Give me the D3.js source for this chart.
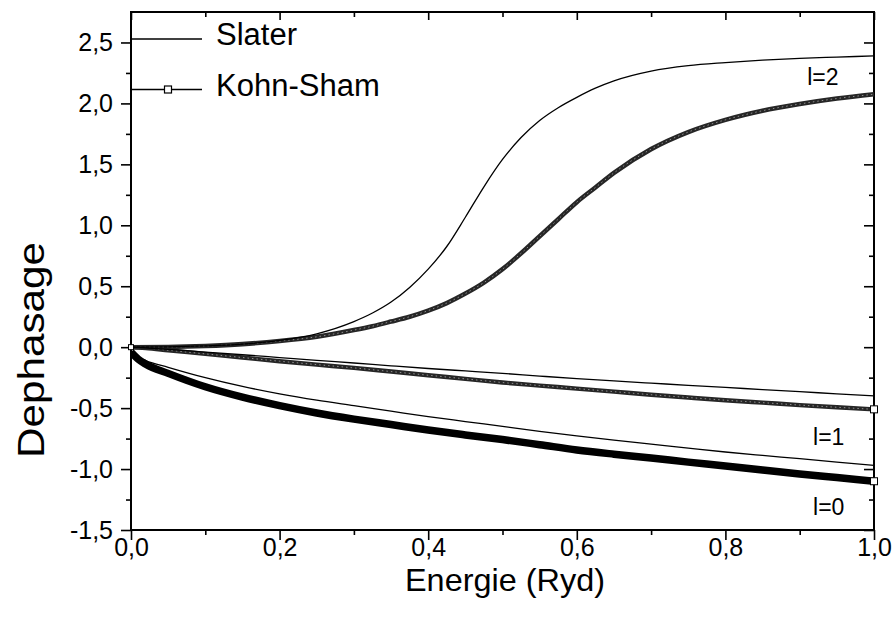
<!DOCTYPE html>
<html>
<head>
<meta charset="utf-8">
<script src="https://cdn.jsdelivr.net/npm/d3@7"></script>
<style>
  html, body { margin: 0; padding: 0; background: #fff; }
  svg { display: block; font-family: "Liberation Sans", Arial, sans-serif; }
</style>
</head>
<body>
<svg id="chart" width="894" height="621"></svg>
<script>
// ---- data ----
const energies = [0, 0.01, 0.02, 0.05, 0.1, 0.15, 0.2, 0.25, 0.3, 0.35, 0.4, 0.45, 0.5, 0.55, 0.6, 0.65, 0.7, 0.75, 0.8, 0.85, 0.9, 0.95, 1.0];

const slaterL0 = [-0.03, -0.08, -0.11, -0.165, -0.25, -0.322, -0.383, -0.435, -0.48, -0.525, -0.57, -0.61, -0.65, -0.69, -0.727, -0.762, -0.795, -0.828, -0.86, -0.888, -0.915, -0.943, -0.97];
const kohnShamL0 = [-0.04, -0.10, -0.14, -0.215, -0.325, -0.41, -0.48, -0.54, -0.59, -0.635, -0.68, -0.72, -0.758, -0.80, -0.843, -0.878, -0.91, -0.943, -0.975, -1.008, -1.04, -1.07, -1.10];

const slaterL1 = [0, -0.002, -0.005, -0.018, -0.04, -0.062, -0.085, -0.108, -0.13, -0.153, -0.175, -0.195, -0.215, -0.237, -0.258, -0.277, -0.295, -0.313, -0.33, -0.348, -0.365, -0.383, -0.40];
const kohnShamL1 = [0, -0.003, -0.007, -0.025, -0.055, -0.085, -0.115, -0.143, -0.17, -0.2, -0.23, -0.26, -0.29, -0.315, -0.34, -0.365, -0.39, -0.413, -0.435, -0.455, -0.475, -0.493, -0.51];

// l=2 resonance, read on a finer grid through the steep part
const energiesL2 = [0, 0.05, 0.1, 0.15, 0.2, 0.25, 0.3, 0.325, 0.35, 0.375, 0.4, 0.425, 0.45, 0.475, 0.5, 0.525, 0.55, 0.575, 0.6, 0.625, 0.65, 0.7, 0.75, 0.8, 0.85, 0.9, 0.95, 1.0];
const slaterL2 = [0, 0.002, 0.01, 0.025, 0.055, 0.11, 0.21, 0.28, 0.37, 0.49, 0.64, 0.826, 1.066, 1.316, 1.54, 1.72, 1.86, 1.965, 2.05, 2.125, 2.185, 2.265, 2.31, 2.335, 2.355, 2.37, 2.38, 2.39];
const kohnShamL2 = [0, 0.002, 0.01, 0.025, 0.05, 0.085, 0.14, 0.172, 0.21, 0.25, 0.30, 0.362, 0.44, 0.53, 0.64, 0.77, 0.91, 1.05, 1.19, 1.31, 1.43, 1.625, 1.765, 1.865, 1.94, 1.995, 2.04, 2.075];

const xMajorTicks = [0, 0.2, 0.4, 0.6, 0.8, 1.0];
const xMinorTicks = [0.1, 0.3, 0.5, 0.7, 0.9];
const yMajorTicks = [-1.5, -1.0, -0.5, 0.0, 0.5, 1.0, 1.5, 2.0, 2.5];
const yMinorTicks = [-1.25, -0.75, -0.25, 0.25, 0.75, 1.25, 1.75, 2.25];

const legendLabels = ["Slater", "Kohn-Sham"];
const curveLabels = [
  { text: "l=2", e: 0.91, v: 2.15 },
  { text: "l=1", e: 0.918, v: -0.80 },
  { text: "l=0", e: 0.918, v: -1.38 }
];

// ---- layout ----
const svg = d3.select("#chart");
const mLeft = 131, mRight = 874, mTop = 12, mBottom = 530;

const x = d3.scaleLinear().domain([0, 1]).range([mLeft, mRight]);
const y = d3.scaleLinear().domain([-1.5, 2.75]).range([mBottom, mTop]);

const loc = d3.formatLocale({ decimal: ",", thousands: ".", grouping: [3], currency: ["", ""], minus: "-" });
const fmt = loc.format(".1f");

// frame
svg.append("rect")
  .attr("x", mLeft).attr("y", mTop)
  .attr("width", mRight - mLeft).attr("height", mBottom - mTop)
  .attr("fill", "none").attr("stroke", "#000").attr("stroke-width", 2);

function styleAxis(g) {
  g.select(".domain").remove();
  g.selectAll(".tick line").attr("stroke", "#000").attr("stroke-width", 1.6);
  g.selectAll(".tick text").attr("fill", "#000")
    .attr("font-family", "Liberation Sans, Arial, sans-serif");
}

// bottom axis (outward ticks)
svg.append("g").attr("transform", `translate(0,${mBottom})`)
  .call(d3.axisBottom(x).tickValues(xMajorTicks).tickSize(10).tickFormat(fmt))
  .call(styleAxis)
  .call(g => g.selectAll(".tick text").attr("font-size", 25).attr("dy", "0.35em").attr("y", 17));
svg.append("g").attr("transform", `translate(0,${mBottom})`)
  .call(d3.axisBottom(x).tickValues(xMinorTicks).tickSize(5).tickFormat(""))
  .call(styleAxis);

// top axis (inward ticks)
svg.append("g").attr("transform", `translate(0,${mTop})`)
  .call(d3.axisTop(x).tickValues(xMajorTicks).tickSize(-8).tickFormat(""))
  .call(styleAxis);
svg.append("g").attr("transform", `translate(0,${mTop})`)
  .call(d3.axisTop(x).tickValues(xMinorTicks).tickSize(-5).tickFormat(""))
  .call(styleAxis);

// left axis (outward ticks)
svg.append("g").attr("transform", `translate(${mLeft},0)`)
  .call(d3.axisLeft(y).tickValues(yMajorTicks).tickSize(10).tickPadding(8).tickFormat(fmt))
  .call(styleAxis)
  .call(g => g.selectAll(".tick text").attr("font-size", 25));
svg.append("g").attr("transform", `translate(${mLeft},0)`)
  .call(d3.axisLeft(y).tickValues(yMinorTicks).tickSize(5).tickFormat(""))
  .call(styleAxis);

// right axis (inward ticks)
svg.append("g").attr("transform", `translate(${mRight},0)`)
  .call(d3.axisRight(y).tickValues(yMajorTicks).tickSize(-10).tickFormat(""))
  .call(styleAxis);
svg.append("g").attr("transform", `translate(${mRight},0)`)
  .call(d3.axisRight(y).tickValues(yMinorTicks).tickSize(-5).tickFormat(""))
  .call(styleAxis);

// axis titles
svg.append("text")
  .attr("x", 505).attr("y", 591)
  .attr("text-anchor", "middle").attr("font-size", 32)
  .attr("textLength", 200).attr("lengthAdjust", "spacingAndGlyphs")
  .text("Energie (Ryd)");
svg.append("text")
  .attr("transform", `translate(44,350) rotate(-90)`)
  .attr("text-anchor", "middle").attr("font-size", 36)
  .attr("textLength", 216).attr("lengthAdjust", "spacingAndGlyphs")
  .text("Dephasage");

// curves
const lineFor = (xs) => d3.line()
  .x((d, i) => x(xs[i]))
  .y(d => y(d))
  .curve(d3.curveMonotoneX);

svg.append("clipPath").attr("id", "plotclip")
  .append("rect").attr("x", mLeft).attr("y", mTop).attr("width", mRight - mLeft + 4).attr("height", mBottom - mTop);

const plot = svg.append("g").attr("clip-path", "url(#plotclip)");

// Kohn-Sham (thick, dense square markers)
const ksSeries = [
  { xs: energies, data: kohnShamL0, width: 7.5, color: "#000" },
  { xs: energies, data: kohnShamL1, width: 4.4, color: "#262626" },
  { xs: energiesL2, data: kohnShamL2, width: 4.6, color: "#262626" }
];
ksSeries.forEach(s => {
  const d = lineFor(s.xs)(s.data);
  plot.append("path").attr("d", d)
    .attr("fill", "none").attr("stroke", s.color).attr("stroke-width", s.width);
  if (s.width < 6) {
    plot.append("path").attr("d", d)
      .attr("fill", "none").attr("stroke", "#aaa").attr("stroke-width", 0.8)
      .attr("stroke-dasharray", "1.5,3");
  }
});

// Slater (thin)
[[energies, slaterL0], [energies, slaterL1], [energiesL2, slaterL2]].forEach(([xs, s]) => {
  plot.append("path").attr("d", lineFor(xs)(s))
    .attr("fill", "none").attr("stroke", "#000").attr("stroke-width", 1.3);
});

// end markers of the Kohn-Sham series
svg.selectAll("rect.endmark")
  .data([kohnShamL0, kohnShamL1])
  .join("rect").attr("class", "endmark")
  .attr("x", d => x(energies[energies.length - 1]) - 3.5)
  .attr("y", d => y(d[d.length - 1]) - 3.5)
  .attr("width", 7).attr("height", 7)
  .attr("fill", "#fff").attr("stroke", "#000").attr("stroke-width", 1);
svg.append("rect")
  .attr("x", x(energiesL2[0]) - 2.5).attr("y", y(kohnShamL2[0]) - 2.5)
  .attr("width", 5).attr("height", 5)
  .attr("fill", "#fff").attr("stroke", "#000").attr("stroke-width", 1);

// curve labels
svg.selectAll("text.clabel")
  .data(curveLabels)
  .join("text").attr("class", "clabel")
  .attr("x", d => x(d.e)).attr("y", d => y(d.v))
  .attr("font-size", 23)
  .text(d => d.text);

// legend
svg.append("line")
  .attr("x1", mLeft).attr("x2", 202).attr("y1", 39).attr("y2", 39)
  .attr("stroke", "#000").attr("stroke-width", 1.3);
svg.append("line")
  .attr("x1", mLeft).attr("x2", 202).attr("y1", 89.5).attr("y2", 89.5)
  .attr("stroke", "#000").attr("stroke-width", 1.3);
svg.append("rect")
  .attr("x", 164.5).attr("y", 86).attr("width", 7).attr("height", 7)
  .attr("fill", "#fff").attr("stroke", "#000").attr("stroke-width", 1.2);
svg.selectAll("text.leg")
  .data(legendLabels)
  .join("text").attr("class", "leg")
  .attr("x", 216).attr("y", (d, i) => i === 0 ? 45 : 96)
  .attr("font-size", 31)
  .text(d => d);
</script>
</body>
</html>
